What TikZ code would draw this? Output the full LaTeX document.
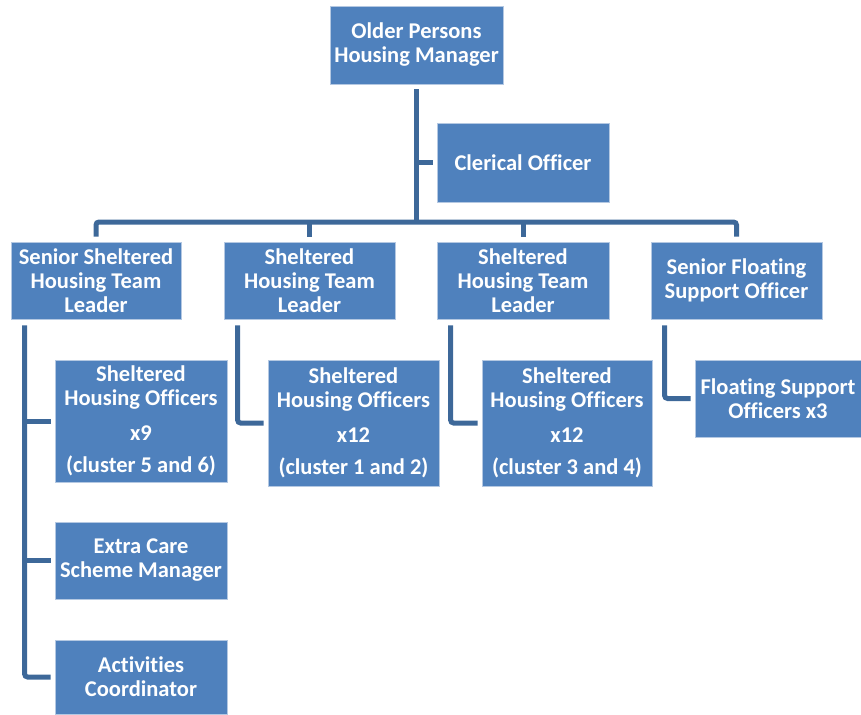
\documentclass[tikz,border=0pt]{standalone}
\usepackage{fontspec}
\setmainfont{Carlito}[Ligatures=NoCommon]
\definecolor{boxfill}{HTML}{4F81BD}
\definecolor{boxline}{HTML}{B4C8E2}
\definecolor{connc}{HTML}{3D6899}
\begin{document}
\begin{tikzpicture}[x=1pt,y=-1pt,
  box/.style={draw=boxline, line width=0.8pt, fill=boxfill, text=white,
    font=\fontsize{22.5}{24}\selectfont\bfseries, align=center, inner sep=0pt},
  conn/.style={draw=connc, line width=5pt, rounded corners=3pt}]
\useasboundingbox (0,0) rectangle (861,714);
% nodes
\node[box, minimum width=173pt, minimum height=78pt] (top) at (416.5,45) {Older Persons\\Housing Manager};
\node[box, minimum width=172pt, minimum height=79pt] (cler) at (523,162.5) {Clerical Officer};
\node[box, minimum width=170pt, minimum height=77pt] (b1) at (96,280.5) {Senior Sheltered\\Housing Team\\Leader};
\node[box, minimum width=171pt, minimum height=77pt] (b2) at (309.5,280.5) {Sheltered\\Housing Team\\Leader};
\node[box, minimum width=172pt, minimum height=77pt] (b3) at (523,280.5) {Sheltered\\Housing Team\\Leader};
\node[box, minimum width=171pt, minimum height=77pt] (b4) at (736.5,280.5) {Senior Floating\\Support Officer};
\node[box, minimum width=172pt, minimum height=122pt] (c1) at (141,421) {Sheltered\\Housing Officers\\[11pt]x9\\[8pt](cluster 5 and 6)};
\node[box, minimum width=171pt, minimum height=126pt] (c2) at (353.5,423) {Sheltered\\Housing Officers\\[11pt]x12\\[8pt](cluster 1 and 2)};
\node[box, minimum width=170pt, minimum height=126pt] (c3) at (567,423) {Sheltered\\Housing Officers\\[11pt]x12\\[8pt](cluster 3 and 4)};
\node[box, minimum width=166pt, minimum height=77pt] (c4) at (778,398.5) {Floating Support\\Officers x3};
\node[box, minimum width=172pt, minimum height=77pt] (e1) at (141,560.5) {Extra Care\\Scheme Manager};
\node[box, minimum width=172pt, minimum height=74pt] (a1) at (141,677) {Activities\\Coordinator};
% coordinates
\coordinate (bus) at (0,222);
\coordinate (s1) at ([xshift=14pt,yshift=-6pt]b1.south west);
\coordinate (s2) at ([xshift=14pt,yshift=-6pt]b2.south west);
\coordinate (s3) at ([xshift=14pt,yshift=-6pt]b3.south west);
\coordinate (s4) at ([xshift=14pt,yshift=-6pt]b4.south west);
% connectors
\draw[conn] ([yshift=-5pt]top.south) -- (top.south |- bus);
\draw[conn] (top.south |- cler.west) -- ([xshift=-4pt]cler.west);
\draw[conn] ([yshift=5pt]b1.north) -- (b1.north |- bus) -- (b4.north |- bus) -- ([yshift=5pt]b4.north);
\draw[conn] (b2.north |- bus) -- ([yshift=5pt]b2.north);
\draw[conn] (b3.north |- bus) -- ([yshift=5pt]b3.north);
\draw[conn] (s1) |- ([xshift=-4pt]a1.west);
\draw[conn] (s1 |- c1.west) -- ([xshift=-4pt]c1.west);
\draw[conn] (s1 |- e1.west) -- ([xshift=-4pt]e1.west);
\draw[conn] (s2) |- ([xshift=-4pt]c2.west);
\draw[conn] (s3) |- ([xshift=-4pt]c3.west);
\draw[conn] (s4) |- ([xshift=-4pt]c4.west);
\end{tikzpicture}
\end{document}
